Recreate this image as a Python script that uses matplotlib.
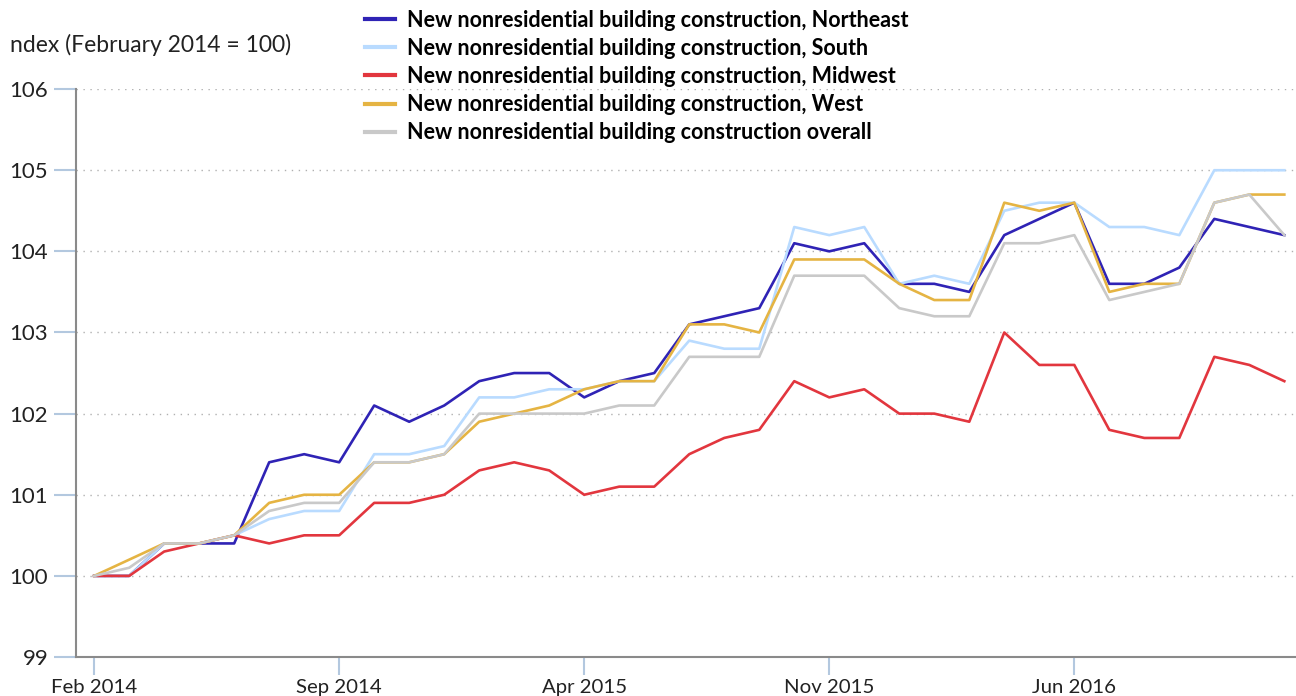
import numpy as np
import pandas as pd
import matplotlib
matplotlib.use("Agg")
import matplotlib.pyplot as plt

""" Data (read off the chart) """
months = pd.date_range("2014-02-01", periods=35, freq="MS")

northeast = [100.0, 100.0, 100.4, 100.4, 100.4, 101.4, 101.5, 101.4, 102.1, 101.9,
             102.1, 102.4, 102.5, 102.5, 102.2, 102.4, 102.5, 103.1, 103.2, 103.3,
             104.1, 104.0, 104.1, 103.6, 103.6, 103.5, 104.2, 104.4, 104.6, 103.6,
             103.6, 103.8, 104.4, 104.3, 104.2]
south = [100.0, 100.0, 100.4, 100.4, 100.5, 100.7, 100.8, 100.8, 101.5, 101.5,
         101.6, 102.2, 102.2, 102.3, 102.3, 102.4, 102.4, 102.9, 102.8, 102.8,
         104.3, 104.2, 104.3, 103.6, 103.7, 103.6, 104.5, 104.6, 104.6, 104.3,
         104.3, 104.2, 105.0, 105.0, 105.0]
midwest = [100.0, 100.0, 100.3, 100.4, 100.5, 100.4, 100.5, 100.5, 100.9, 100.9,
           101.0, 101.3, 101.4, 101.3, 101.0, 101.1, 101.1, 101.5, 101.7, 101.8,
           102.4, 102.2, 102.3, 102.0, 102.0, 101.9, 103.0, 102.6, 102.6, 101.8,
           101.7, 101.7, 102.7, 102.6, 102.4]
west = [100.0, 100.2, 100.4, 100.4, 100.5, 100.9, 101.0, 101.0, 101.4, 101.4,
        101.5, 101.9, 102.0, 102.1, 102.3, 102.4, 102.4, 103.1, 103.1, 103.0,
        103.9, 103.9, 103.9, 103.6, 103.4, 103.4, 104.6, 104.5, 104.6, 103.5,
        103.6, 103.6, 104.6, 104.7, 104.7]
overall = [100.0, 100.1, 100.4, 100.4, 100.5, 100.8, 100.9, 100.9, 101.4, 101.4,
           101.5, 102.0, 102.0, 102.0, 102.0, 102.1, 102.1, 102.7, 102.7, 102.7,
           103.7, 103.7, 103.7, 103.3, 103.2, 103.2, 104.1, 104.1, 104.2, 103.4,
           103.5, 103.6, 104.6, 104.7, 104.2]

labels = ["New nonresidential building construction, Northeast",
          "New nonresidential building construction, South",
          "New nonresidential building construction, Midwest",
          "New nonresidential building construction, West",
          "New nonresidential building construction overall"]
colors = ["#2f23b5", "#b9dbff", "#e2363e", "#e5b443", "#c9c9c9"]

tick_idx = [0, 7, 14, 21, 28]
tick_labels = [months[i].strftime("%b %Y") for i in tick_idx]
y_ticks = [99, 100, 101, 102, 103, 104, 105, 106]

plt.rcParams["font.family"] = ["Lato", "DejaVu Sans"]

fig = plt.figure(figsize=(12.96, 6.96), dpi=100)
ax = fig.add_axes([0.0586, 0.056, 0.9405, 0.816])

x = np.arange(len(months))
series = [northeast, south, midwest, west, overall]
for vals, lab, col in zip(series, labels, colors):
    ax.plot(x, vals, color=col, lw=1.9, label=lab, solid_joinstyle="round")

ax.set_xlim(-0.52, 34.3)
ax.set_ylim(99, 106)
ax.set_yticks(y_ticks)
ax.set_xticks(tick_idx)
ax.set_xticklabels(tick_labels)

ax.grid(axis="y", color="#b0b0b0", linestyle=(0, (1, 4)), lw=1.0)
ax.set_axisbelow(True)
for s in ["top", "right"]:
    ax.spines[s].set_visible(False)
for s in ["left", "bottom"]:
    ax.spines[s].set_color("#8a8a8a")
    ax.spines[s].set_linewidth(1.5)

ax.tick_params(axis="y", length=16, width=1.5, color="#b3c8df", pad=4,
               labelsize=16, labelcolor="#222222")
ax.tick_params(axis="x", length=13, width=1.5, color="#b3c8df", pad=2.5,
               labelsize=14.7, labelcolor="#222222")

fig.text(0.008, 0.935, "ndex (February 2014 = 100)", fontsize=16.5,
         color="#222222", va="center", ha="left")

leg = fig.legend(loc="upper left", bbox_to_anchor=(0.282, 0.986), frameon=False,
                 handlelength=1.35, handletextpad=0.6, borderpad=0, borderaxespad=0,
                 labelspacing=0.33, prop={"weight": "bold", "size": 15.5})
for line in leg.get_lines():
    line.set_linewidth(3.0)

fig.savefig("out.png", dpi=100)
